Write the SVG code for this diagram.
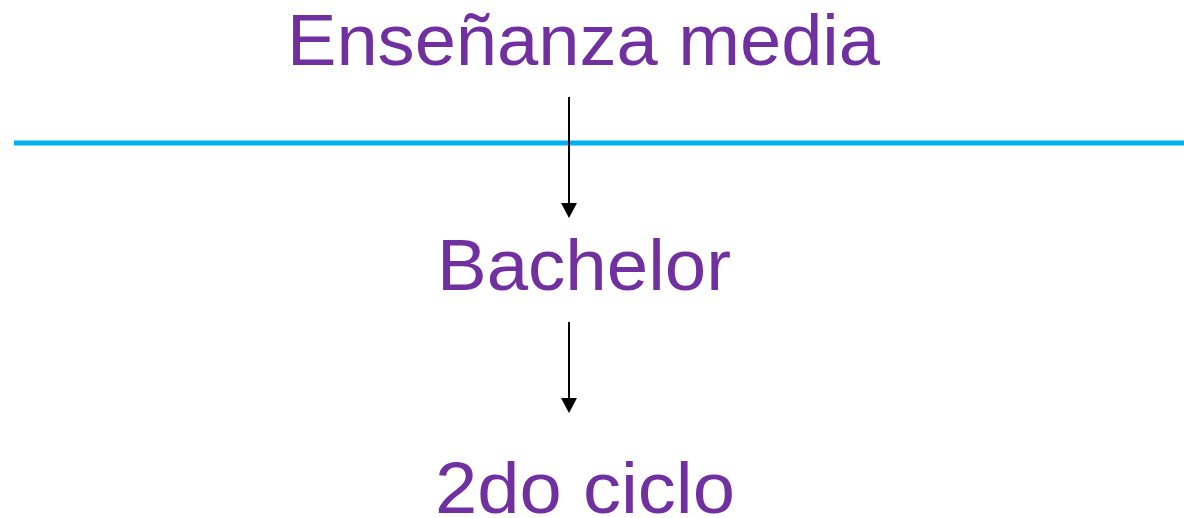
<svg xmlns="http://www.w3.org/2000/svg" width="1184" height="518" viewBox="0 0 1184 518">
<style>
.t{font-family:"Liberation Sans",Arial,sans-serif;font-size:72px;fill:#7030A0;}
.c{stroke:#000;stroke-width:2;fill:none;}
</style>
<defs>
<marker id="ah" markerUnits="userSpaceOnUse" markerWidth="16" markerHeight="16" refX="8" refY="15" orient="auto-start-reverse" viewBox="0 0 16 16">
<path d="M0,0 L16,0 L8,15 Z" fill="#000" transform="rotate(-90 8 8)"/>
</marker>
</defs>
<rect width="1184" height="518" fill="#fff"/>
<line x1="14" y1="143" x2="1184" y2="143" stroke="#00B0F0" stroke-width="5"/>
<g id="connectors">
<line class="c" x1="569" y1="97" x2="569" y2="204"/>
<path d="M561,203 L577,203 L569,218 Z" fill="#000"/>
<line class="c" x1="569" y1="322" x2="569" y2="399"/>
<path d="M561,398 L577,398 L569,413 Z" fill="#000"/>
</g>
<g id="node-ensenanza"><text class="t" x="287" y="65" textLength="593" lengthAdjust="spacingAndGlyphs">Enseñanza media</text></g>
<g id="node-bachelor"><text class="t" x="437" y="290" textLength="294" lengthAdjust="spacingAndGlyphs">Bachelor</text></g>
<g id="node-2do"><text class="t" x="435" y="513" textLength="300" lengthAdjust="spacingAndGlyphs">2do ciclo</text></g>
</svg>
